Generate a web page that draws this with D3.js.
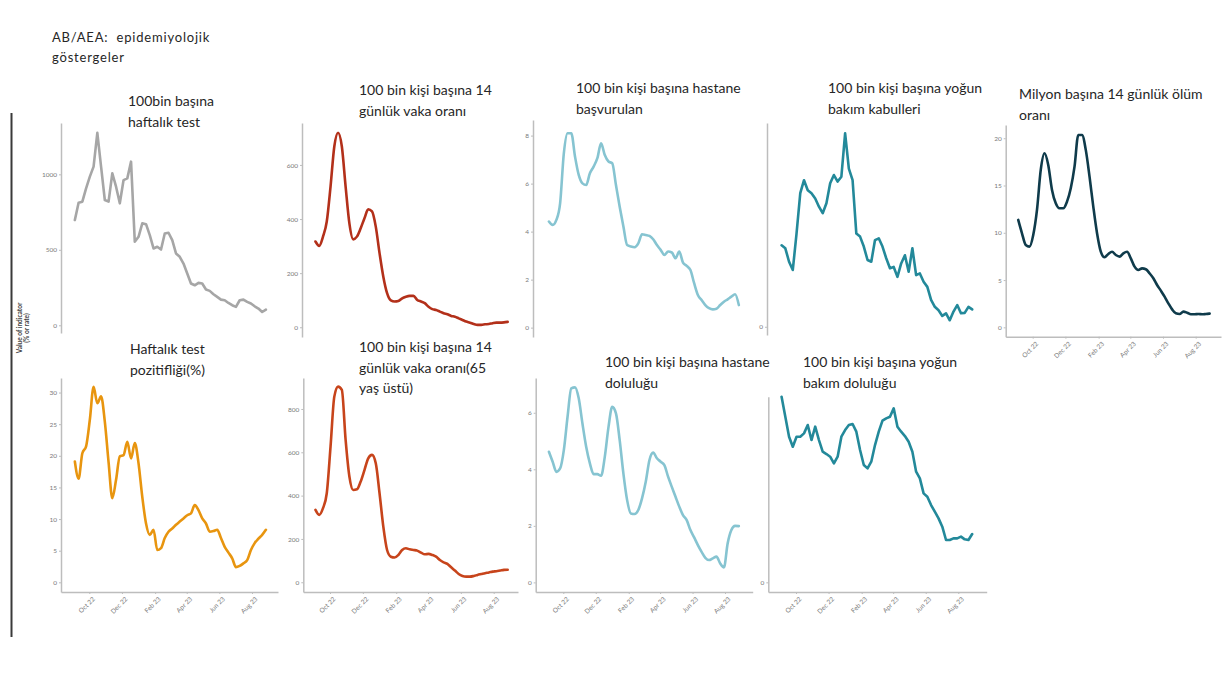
<!DOCTYPE html>
<html>
<head>
<meta charset="utf-8">
<script src="https://cdn.jsdelivr.net/npm/d3@7"></script>
<style>
  body { margin: 0; background: #fff; }
  text { font-family: Lato, "Open Sans", sans-serif; }
</style>
</head>
<body>
<svg id="chart" width="1223" height="679"></svg>
<script>
// weekly series, Sep 2022 - Aug 2023 (one value per week)
const weekStart = new Date(2022, 8, 4);
const weekEnd = new Date(2023, 8, 1);
const weeks = d3.timeWeek.range(weekStart, weekEnd);

const xTickDates = [
    new Date(2022, 9, 1), new Date(2022, 11, 1), new Date(2023, 1, 1),
    new Date(2023, 3, 1), new Date(2023, 5, 1), new Date(2023, 7, 1)
];

const weeklyTests = [697, 812, 819, 907, 985, 1051, 1275, 1051, 830, 819,
    1007, 918, 808, 962, 973, 1084, 553, 586, 675, 670,
    597, 509, 520, 502, 608, 613, 564, 476, 454, 409,
    343, 277, 265, 281, 277, 237, 228, 206, 188, 170,
    166, 148, 133, 122, 166, 170, 155, 144, 126, 111,
    88, 104];

const caseRate14 = [317, 301, 335, 391, 520, 668, 719, 668, 520, 384,
    325, 335, 366, 403, 436, 428, 372, 274, 187, 126,
    99, 95, 97, 107, 113, 116, 116, 101, 95, 89,
    76, 67, 64, 58, 52, 48, 42, 39, 33, 27,
    21, 17, 12, 9, 9, 11, 12, 15, 17, 17,
    18, 20];

const hospAdmissions = [4.42, 4.28, 4.49, 5.18, 7.26, 8.1, 8.1, 7.13, 6.36, 6.01,
    5.94, 6.43, 6.71, 7.06, 7.68, 7.19, 6.92, 6.85, 5.94, 5.04,
    4.21, 3.44, 3.38, 3.35, 3.51, 3.89, 3.86, 3.82, 3.68, 3.44,
    3.24, 3.03, 3.17, 3.13, 2.89, 3.17, 2.71, 2.57, 2.4, 1.85,
    1.36, 1.15, 0.94, 0.81, 0.76, 0.79, 0.94, 1.08, 1.18, 1.29,
    1.39, 0.94];

const icuAdmissions = [0.188, 0.181, 0.150, 0.131, 0.215, 0.308, 0.338, 0.315, 0.308, 0.296,
    0.277, 0.262, 0.285, 0.331, 0.35, 0.335, 0.346, 0.446, 0.365, 0.338,
    0.215, 0.208, 0.185, 0.154, 0.15, 0.2, 0.204, 0.185, 0.158, 0.135,
    0.138, 0.115, 0.146, 0.165, 0.127, 0.181, 0.119, 0.123, 0.104, 0.092,
    0.062, 0.046, 0.038, 0.025, 0.031, 0.015, 0.035, 0.05, 0.031, 0.032,
    0.046, 0.04];

const deathRate14 = [11.36, 9.95, 8.71, 8.54, 9.77, 12.42, 16.65, 18.41, 17.18, 14.53,
    13.12, 12.59, 12.59, 13.3, 14.71, 17.0, 20.35, 20.35, 18.77, 15.94,
    12.77, 9.95, 8.0, 7.41, 7.76, 8.0, 7.65, 7.48, 7.83, 8.0,
    7.3, 6.42, 6.07, 6.24, 6.14, 5.71, 5.19, 4.48, 3.88, 3.25,
    2.54, 1.9, 1.48, 1.41, 1.66, 1.55, 1.38, 1.38, 1.41, 1.38,
    1.41, 1.45];

const testPositivity = [19.1, 16.4, 20.4, 21.5, 25.7, 30.9, 28.3, 29.4, 25.4, 19.0,
    13.3, 16.2, 19.9, 20.1, 22.2, 19.6, 22.0, 18.8, 13.5, 9.3,
    7.5, 8.3, 5.1, 5.4, 7.0, 8.0, 8.5, 9.1, 9.6, 10.1,
    10.6, 10.9, 12.2, 11.4, 10.1, 9.3, 8.0, 8.1, 8.3, 7.0,
    5.6, 4.7, 3.8, 2.4, 2.6, 3.0, 3.5, 5.1, 6.2, 6.9,
    7.5, 8.3];

const caseRate65 = [334, 311, 342, 411, 626, 857, 903, 888, 657, 488,
    426, 429, 465, 518, 572, 588, 549, 411, 257, 149,
    118, 114, 126, 149, 157, 152, 149, 146, 137, 129,
    131, 126, 118, 103, 92, 85, 69, 54, 38, 29,
    26, 26, 29, 34, 38, 42, 45, 49, 51, 54,
    57, 58];

const hospOccupancy = [4.62, 4.27, 3.91, 4.03, 4.68, 5.86, 6.86, 6.9, 6.51, 5.62,
    4.8, 4.21, 3.83, 3.83, 3.77, 4.44, 5.5, 6.21, 5.98, 5.03,
    3.85, 2.91, 2.44, 2.42, 2.56, 2.97, 3.56, 4.33, 4.59, 4.39,
    4.27, 4.15, 3.74, 3.38, 3.03, 2.68, 2.38, 2.2, 1.85, 1.59,
    1.32, 1.08, 0.87, 0.79, 0.85, 0.91, 0.67, 0.53, 1.38, 1.85,
    2.0, 1.99];

const icuOccupancy = [0.557, 0.497, 0.437, 0.407, 0.437, 0.437, 0.447, 0.472, 0.427, 0.467,
    0.427, 0.392, 0.385, 0.377, 0.357, 0.377, 0.437, 0.457, 0.472, 0.475,
    0.452, 0.397, 0.352, 0.342, 0.362, 0.412, 0.452, 0.485, 0.492, 0.497,
    0.522, 0.467, 0.452, 0.439, 0.422, 0.392, 0.332, 0.312, 0.267, 0.257,
    0.232, 0.212, 0.192, 0.167, 0.127, 0.127, 0.132, 0.132, 0.137, 0.129,
    0.127, 0.145];

// pixel position of the Oct 22 and Aug 23 ticks for each column
const columns = [
    { oct: 89.3, aug: 252 },
    { oct: 330, aug: 493.7 },
    { oct: 563.3, aug: 725 },
    { oct: 796, aug: 958.3 },
    { oct: 1032.7, aug: 1195.7 }
];

const panels = [
    { values: weeklyTests, col: 0, axisX: 61, right: 278, top: 123, bottom: 333, yDomain: [-51, 1340], yTicks: [0, 500, 1000],
      xAxis: false, color: '#a6a6a6', curve: d3.curveLinear, title: ['100bin başına', 'haftalık test'], titleX: 128, titleY: 106 },
    { values: caseRate14, col: 1, axisX: 302, right: 518, top: 123, bottom: 337, yDomain: [-36, 755], yTicks: [0, 200, 400, 600],
      xAxis: false, color: '#b3301a', curve: d3.curveMonotoneX, title: ['100 bin kişi başına 14', 'günlük vaka oranı'], titleX: 359, titleY: 95 },
    { values: hospAdmissions, col: 2, axisX: 533, right: 752, top: 120, bottom: 337, yDomain: [-0.39, 8.65], yTicks: [0, 2, 4, 6, 8],
      xAxis: false, color: '#86c4d1', curve: d3.curveMonotoneX, title: ['100 bin kişi başına hastane', 'başvurulan'], titleX: 576, titleY: 93 },
    { values: icuAdmissions, col: 3, axisX: 767, right: 986, top: 123, bottom: 335, yDomain: [-0.019, 0.47], yTicks: [0],
      xAxis: false, color: '#23899a', curve: d3.curveLinear, title: ['100 bin kişi başına yoğun', 'bakım kabulleri'], titleX: 828, titleY: 93 },
    { values: deathRate14, col: 4, axisX: 1005.7, right: 1221, top: 125, bottom: 336.7, yDomain: [-0.99, 21.4], yTicks: [0, 5, 10, 15, 20],
      xAxis: true, color: '#0f3b4b', curve: d3.curveMonotoneX, title: ['Milyon başına 14 günlük ölüm', 'oranı'], titleX: 1019, titleY: 99 },
    { values: testPositivity, col: 0, axisX: 61, right: 278, top: 378, bottom: 592, yDomain: [-1.53, 32.3], yTicks: [0, 5, 10, 15, 20, 25, 30],
      xAxis: true, color: '#e8950f', curve: d3.curveMonotoneX, title: ['Haftalık test', 'pozitifliği(%)'], titleX: 130, titleY: 354 },
    { values: caseRate65, col: 1, axisX: 303.3, right: 518, top: 378, bottom: 592, yDomain: [-45, 943], yTicks: [0, 200, 400, 600, 800],
      xAxis: true, color: '#c7441b', curve: d3.curveMonotoneX, title: ['100 bin kişi başına 14', 'günlük vaka oranı(65', 'yaş üstü)'], titleX: 359, titleY: 352 },
    { values: hospOccupancy, col: 2, axisX: 535.7, right: 752.7, top: 378, bottom: 592, yDomain: [-0.34, 7.23], yTicks: [0, 2, 4, 6],
      xAxis: true, color: '#86c4d1', curve: d3.curveMonotoneX, title: ['100 bin kişi başına hastane', 'doluluğu'], titleX: 605, titleY: 367 },
    { values: icuOccupancy, col: 3, axisX: 768.3, right: 986.7, top: 396.7, bottom: 592, yDomain: [-0.029, 0.557], yTicks: [0],
      xAxis: true, color: '#23899a', curve: d3.curveLinear, title: ['100 bin kişi başına yoğun', 'bakım doluluğu'], titleX: 803, titleY: 367 }
];

const svg = d3.select('#chart');
const axisColor = '#bdbdbd';
const tickText = '#7a7a7a';
const titleColor = '#262626';
const formatMonth = d3.timeFormat('%b %y');

// page title
svg.append('text')
    .attr('x', 52)
    .attr('y', 42)
    .attr('font-size', 13)
    .attr('letter-spacing', '0.8px')
    .attr('fill', titleColor)
    .selectAll('tspan')
    .data(['AB/AEA:  epidemiyolojik', 'göstergeler'])
    .enter()
    .append('tspan')
    .attr('x', 52)
    .attr('dy', (d, i) => i === 0 ? 0 : 20)
    .attr('xml:space', 'preserve')
    .text(d => d);

// left frame line and shared y label
svg.append('line')
    .attr('x1', 11.5).attr('x2', 11.5)
    .attr('y1', 113).attr('y2', 637)
    .attr('stroke', '#3a3a3a')
    .attr('stroke-width', 2);

const yLabel = svg.append('text')
    .attr('transform', 'translate(24, 328) rotate(-90)')
    .attr('text-anchor', 'middle')
    .attr('font-size', 6.5)
    .attr('font-weight', 'bold')
    .attr('fill', '#444');
yLabel.append('tspan').attr('x', 0).attr('dy', -2).text('Value of indicator');
yLabel.append('tspan').attr('x', 0).attr('dy', 7).text('(% or rate)');

panels.forEach(p => {
    const c = columns[p.col];
    const x = d3.scaleTime()
        .domain([xTickDates[0], xTickDates[5]])
        .range([c.oct, c.aug]);
    const y = d3.scaleLinear()
        .domain(p.yDomain)
        .range([p.bottom, p.top]);

    const g = svg.append('g');

    // y axis
    const yAxis = g.append('g')
        .attr('transform', `translate(${p.axisX},0)`)
        .call(d3.axisLeft(y).tickValues(p.yTicks).tickFormat(d3.format('d')).tickSize(2).tickSizeOuter(0).tickPadding(2));
    yAxis.select('.domain').attr('stroke', axisColor).attr('stroke-width', 1.5);
    yAxis.selectAll('.tick line').attr('stroke', axisColor);
    yAxis.selectAll('.tick text')
        .attr('fill', tickText)
        .attr('font-size', 6.5)
        .style('font-family', 'Lato, sans-serif');

    // x axis (bottom row and last panel only)
    if (p.xAxis) {
        const xa = x.copy()
            .domain([x.invert(p.axisX), x.invert(p.right)])
            .range([p.axisX, p.right]);
        const xAxis = g.append('g')
            .attr('transform', `translate(0,${p.bottom})`)
            .call(d3.axisBottom(xa).tickValues(xTickDates).tickFormat(formatMonth).tickSize(2).tickSizeOuter(0));
        xAxis.select('.domain').attr('stroke', axisColor).attr('stroke-width', 1.5);
        xAxis.selectAll('.tick line').attr('stroke', axisColor);
        xAxis.selectAll('.tick text')
            .attr('fill', tickText)
            .attr('font-size', 6.5)
            .style('font-family', 'Lato, sans-serif')
            .attr('text-anchor', 'end')
            .attr('dy', 0)
            .attr('transform', 'translate(2,4) rotate(-45)');
    }

    // series line
    const line = d3.line()
        .x((d, i) => x(weeks[i]))
        .y(d => y(d))
        .curve(p.curve);

    g.append('path')
        .datum(p.values)
        .attr('fill', 'none')
        .attr('stroke', p.color)
        .attr('stroke-width', 2.6)
        .attr('stroke-linejoin', 'round')
        .attr('stroke-linecap', 'round')
        .attr('d', line);

    // panel title
    g.append('text')
        .attr('font-size', 14)
        .attr('fill', titleColor)
        .selectAll('tspan')
        .data(p.title)
        .enter()
        .append('tspan')
        .attr('x', p.titleX)
        .attr('y', (d, i) => p.titleY + i * 20.5)
        .text(d => d);
});
</script>
</body>
</html>
